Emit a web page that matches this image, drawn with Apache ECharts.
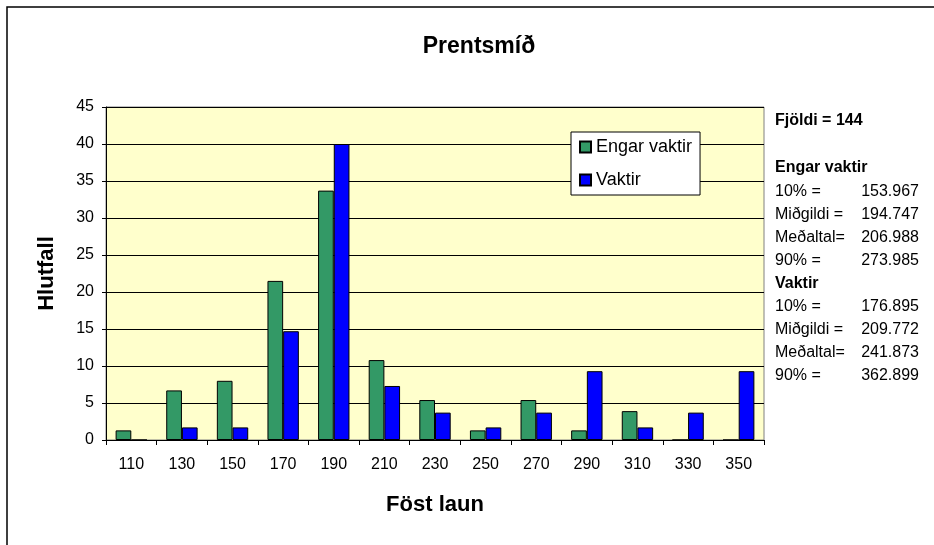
<!DOCTYPE html>
<html>
<head>
<meta charset="utf-8">
<script src="https://cdn.jsdelivr.net/npm/echarts@6/dist/echarts.min.js"></script>
<style>
  html, body { margin: 0; padding: 0; background: #fff; }
  #main { width: 934px; height: 545px; }
</style>
</head>
<body>
<div id="main"></div>
<script>
// gögn
var categories = ['110', '130', '150', '170', '190', '210', '230', '250', '270', '290', '310', '330', '350'];
var engarVaktir = [1.3, 6.7, 8.0, 21.5, 33.7, 10.8, 5.4, 1.3, 5.4, 1.3, 3.9, 0, 0];
var vaktir = [0, 1.7, 1.7, 14.7, 40.0, 7.3, 3.7, 1.7, 3.7, 9.3, 1.7, 3.7, 9.3];
var yTicks = [0, 5, 10, 15, 20, 25, 30, 35, 40, 45];

// texti til hægri
var fjoldi = 'Fjöldi = 144';
var statLabels = ['10% =', 'Miðgildi =', 'Meðaltal=', '90% ='];
var statsEngar = ['153.967', '194.747', '206.988', '273.985'];
var statsVaktir = ['176.895', '209.772', '241.873', '362.899'];

var font = 'Arial, "Liberation Sans", sans-serif';

function createChart(id) {
    var chart = echarts.init(document.getElementById(id));

    // hliðartexti
    var side = [];
    var rowH = 23;
    function txt(x, y, s, bold, align) {
        side.push({
            type: 'text', x: x, y: y,
            style: {
                text: s, fill: '#000', font: (bold ? 'bold ' : '') + '16px ' + font,
                textAlign: align || 'left', textVerticalAlign: 'middle'
            }
        });
    }
    txt(775, 121, fjoldi, true);
    txt(775, 168, 'Engar vaktir', true);
    for (var i = 0; i < statLabels.length; i++) {
        txt(775, 192 + i * rowH, statLabels[i], false);
        txt(919, 192 + i * rowH, statsEngar[i], false, 'right');
    }
    txt(775, 284, 'Vaktir', true);
    for (var j = 0; j < statLabels.length; j++) {
        txt(775, 307 + j * rowH, statLabels[j], false);
        txt(919, 307 + j * rowH, statsVaktir[j], false, 'right');
    }
    // rammi
    side.push({
        type: 'rect', silent: true,
        shape: { x: 7, y: 7, width: 1000, height: 1000 },
        style: { fill: 'none', stroke: '#000', lineWidth: 1.5 }
    });

    var option = {
        animation: false,
        backgroundColor: '#fff',
        textStyle: { fontFamily: font },
        title: {
            text: 'Prentsmíð',
            left: 474,
            textAlign: 'center',
            top: 30,
            textStyle: { fontSize: 23, fontWeight: 'bold', color: '#000', fontFamily: font }
        },
        legend: {
            orient: 'vertical',
            left: 571,
            top: 132,
            width: 132,
            backgroundColor: '#fff',
            borderColor: '#000',
            borderWidth: 1,
            padding: [6, 8, 6, 8],
            itemGap: 15,
            itemWidth: 11,
            itemHeight: 11,
            icon: 'rect',
            textStyle: { fontSize: 18, color: '#000', fontFamily: font },
            data: ['Engar vaktir', 'Vaktir']
        },
        grid: {
            left: 106,
            right: 170,
            top: 107,
            bottom: 105,
            show: true,
            backgroundColor: '#FFFFCC',
            borderColor: '#808080',
            borderWidth: 1
        },
        xAxis: {
            type: 'category',
            data: categories,
            name: 'Föst laun',
            nameLocation: 'middle',
            nameGap: 54,
            nameTextStyle: { fontSize: 22, fontWeight: 'bold', color: '#000', fontFamily: font },
            axisLine: { lineStyle: { color: '#000', width: 1 } },
            axisTick: { show: true, length: 5, lineStyle: { color: '#000' } },
            axisLabel: { fontSize: 16, color: '#000', margin: 17, fontFamily: font }
        },
        yAxis: {
            type: 'value',
            min: 0,
            max: 45,
            interval: 5,
            name: 'Hlutfall',
            nameLocation: 'middle',
            nameGap: 48,
            nameTextStyle: { fontSize: 22, fontWeight: 'bold', color: '#000', fontFamily: font },
            axisLine: { show: true, lineStyle: { color: '#000', width: 1 } },
            axisTick: { show: true, length: 4, lineStyle: { color: '#000' } },
            axisLabel: {
                fontSize: 16, color: '#000', margin: 12, fontFamily: font,
                formatter: function (v) { return yTicks.indexOf(v) >= 0 ? String(v) : ''; }
            },
            splitLine: { show: true, lineStyle: { color: '#000', width: 1 } }
        },
        series: [
            {
                name: 'Engar vaktir',
                type: 'bar',
                data: engarVaktir,
                barGap: '0%',
                barCategoryGap: '38%',
                itemStyle: { color: '#339966', borderColor: '#000', borderWidth: 1 }
            },
            {
                name: 'Vaktir',
                type: 'bar',
                data: vaktir,
                itemStyle: { color: '#0000FF', borderColor: '#000', borderWidth: 1 }
            }
        ],
        graphic: side
    };
    chart.setOption(option);
}

createChart('main');
</script>
</body>
</html>
